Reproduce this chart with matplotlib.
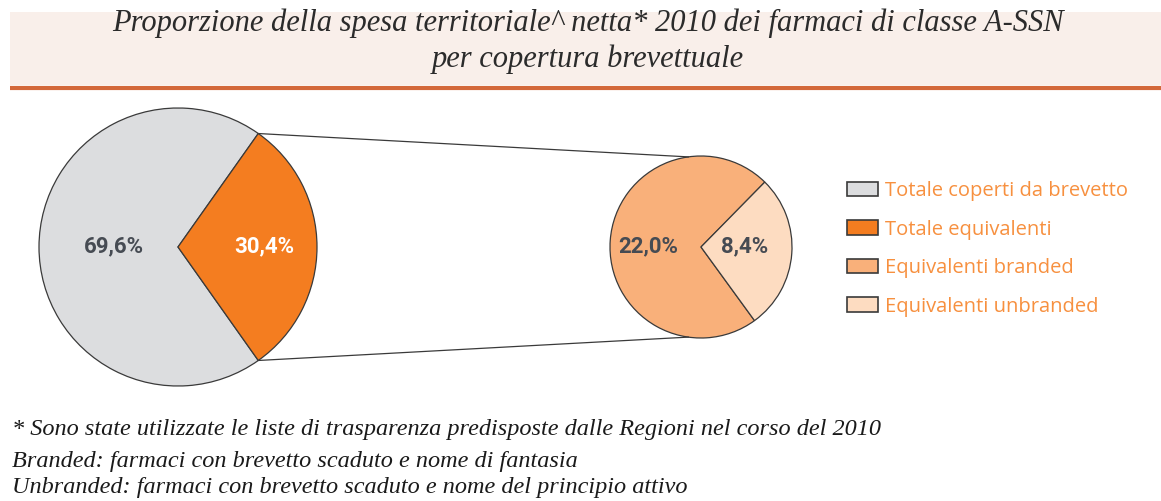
import numpy as np
import matplotlib
matplotlib.use("Agg")
import matplotlib.pyplot as plt
from matplotlib.patches import Patch, Rectangle

# data
main_labels = ["Totale coperti da brevetto", "Totale equivalenti"]
main_values = [69.6, 30.4]
sub_labels = ["Equivalenti branded", "Equivalenti unbranded"]
sub_values = [22.0, 8.4]

title = ("Proporzione della spesa territoriale^ netta* 2010 dei farmaci di classe A-SSN\n"
         "per copertura brevettuale")
notes = ["* Sono state utilizzate le liste di trasparenza predisposte dalle Regioni nel corso del 2010",
         "Branded: farmaci con brevetto scaduto e nome di fantasia",
         "Unbranded: farmaci con brevetto scaduto e nome del principio attivo"]

main_colors = ["#dcdddf", "#f47d20"]
sub_colors = ["#f9b07a", "#fddcc1"]
legend_color = "#f7903f"
label_color = "#464b53"

W, H = 1161, 501
fig = plt.figure(figsize=(W / 100, H / 100), dpi=100)
ax = fig.add_axes([0, 0, 1, 1])

# title band
ax.add_patch(Rectangle((10, H - 85), W - 10, 73, color="#f9efea", lw=0, zorder=0))
ax.plot([10, W], [H - 88, H - 88], color="#d3683a", lw=3, solid_capstyle="butt")
ax.text(588, H - 41, title, ha="center", va="center", fontsize=22,
        family="Liberation Serif", style="italic", color="#2b2b2b", linespacing=1.3)

# left pie
c1, r1 = (178, H - 247), 139
start1 = main_values[1] / 100 * 180
w1, _ = ax.pie(main_values, colors=main_colors, center=c1, radius=r1,
               startangle=start1, frame=True,
               wedgeprops=dict(edgecolor="#3a3a3a", linewidth=0.9))

# right pie (breakdown of equivalents)
c2, r2 = (701, H - 247), 91
start2 = 45.5
w2, _ = ax.pie(sub_values, colors=sub_colors, center=c2, radius=r2,
               startangle=start2, frame=True,
               wedgeprops=dict(edgecolor="#3a3a3a", linewidth=0.9))
ax.set_xlim(0, W)
ax.set_ylim(0, H)
ax.axis("off")

# connector lines
orange = w1[1]
for ang1, ang2 in [(orange.theta2, 98), (orange.theta1, 262)]:
    p1 = (c1[0] + r1 * np.cos(np.radians(ang1)), c1[1] + r1 * np.sin(np.radians(ang1)))
    p2 = (c2[0] + r2 * np.cos(np.radians(ang2)), c2[1] + r2 * np.sin(np.radians(ang2)))
    ax.plot([p1[0], p2[0]], [p1[1], p2[1]], color="#3a3a3a", lw=0.9)

# value labels
fmt = lambda v: f"{v:.1f}%".replace(".", ",")
lab_font = dict(fontsize=16, fontweight="bold", family="Roboto", ha="center", va="center")
ax.text(114, H - 246, fmt(main_values[0]), color=label_color, **lab_font)
ax.text(264, H - 246, fmt(main_values[1]), color="white", **lab_font)
ax.text(648, H - 246, fmt(sub_values[0]), color=label_color, **lab_font)
ax.text(745, H - 246, fmt(sub_values[1]), color=label_color, **lab_font)

# legend
handles = [Patch(facecolor=c, edgecolor="#3a3a3a", linewidth=1.2)
           for c in main_colors + sub_colors]
leg = ax.legend(handles, main_labels + sub_labels, loc="upper left",
                bbox_to_anchor=(847 / W, 1 - 181 / H), frameon=False,
                prop=dict(family="Open Sans", size=14.5), labelcolor=legend_color,
                handlelength=1.55, handleheight=0.7, handletextpad=0.35,
                labelspacing=0.92, borderpad=0, borderaxespad=0)

# footnotes
for t, y in zip(notes, [430, 461, 487]):
    ax.text(12, H - y, t, ha="left", va="center", fontsize=17.5,
            family="Liberation Serif", style="italic", color="#1a1a1a")

fig.savefig("out.png", dpi=100)
